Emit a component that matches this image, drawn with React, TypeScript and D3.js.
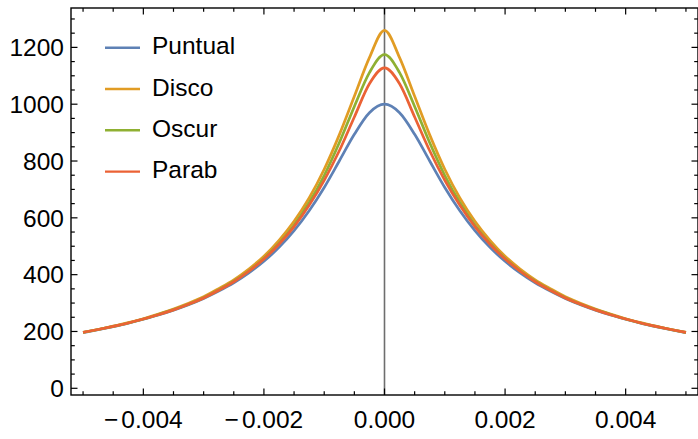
import React from "react";
import * as d3 from "d3";

const xValues = [
  -0.005, -0.00475, -0.0045, -0.00425, -0.004, -0.00375, -0.0035, -0.00325, -0.003, -0.00275,
  -0.0025, -0.00225, -0.002, -0.00175, -0.0015, -0.00125, -0.001, -0.00075, -0.0005, -0.00025,
  0,
  0.00025, 0.0005, 0.00075, 0.001, 0.00125, 0.0015, 0.00175, 0.002, 0.00225, 0.0025,
  0.00275, 0.003, 0.00325, 0.0035, 0.00375, 0.004, 0.00425, 0.0045, 0.00475, 0.005,
];

const puntual = [
  196, 206, 217, 229, 243, 258, 275, 294, 316, 342,
  371, 406, 447, 496, 555, 625, 707, 800, 894, 970,
  1000,
  970, 894, 800, 707, 625, 555, 496, 447, 406, 371,
  342, 316, 294, 275, 258, 243, 229, 217, 206, 196,
];

const disco = [
  197, 207, 219, 231, 245, 261, 279, 299, 322, 351,
  382, 420, 465, 521, 588, 670, 771, 892, 1028, 1164,
  1260,
  1164, 1028, 892, 771, 670, 588, 521, 465, 420, 382,
  351, 322, 299, 279, 261, 245, 231, 219, 207, 197,
];

const oscur = [
  197, 207, 218, 230, 244, 260, 277, 296, 319, 346,
  377, 413, 457, 510, 574, 653, 749, 864, 992, 1111,
  1175,
  1111, 992, 864, 749, 653, 574, 510, 457, 413, 377,
  346, 319, 296, 277, 260, 244, 230, 218, 207, 197,
];

const parab = [
  197, 207, 218, 230, 244, 259, 276, 296, 318, 345,
  375, 412, 455, 507, 569, 644, 732, 836, 955, 1072,
  1128,
  1072, 955, 836, 732, 644, 569, 507, 455, 412, 375,
  345, 318, 296, 276, 259, 244, 230, 218, 207, 197,
];

const seriesNames = ["Puntual", "Disco", "Oscur", "Parab"];
const seriesColors = ["#5E81B5", "#E19C24", "#8FB032", "#EB6235"];
const seriesData = [puntual, disco, oscur, parab];

const xMajorTicks = [-0.004, -0.002, 0, 0.002, 0.004];
const xTickLabels = ["\u22120.004", "\u22120.002", "0.000", "0.002", "0.004"];
const yMajorTicks = [0, 200, 400, 600, 800, 1000, 1200];
const yTickLabels = ["0", "200", "400", "600", "800", "1000", "1200"];

const W = 698;
const H = 439;
const left = 71;
const right = 698;
const top = 8;
const bottom = 395;
const FONT = "'Liberation Sans', Arial, sans-serif";
const FS = 24.5;

export default function App() {
  const x = d3.scaleLinear().domain([-0.0052, 0.0052]).range([left, right]);
  const y = d3.scaleLinear().domain([-23.6, 1338.6]).range([bottom, top]);

  const xMinor = d3.range(-10, 11).map((i) => i * 0.0005);
  const yMinor = d3.range(0, 27).map((i) => i * 50);

  const line = d3
    .line<number>()
    .x((_, i) => x(xValues[i]))
    .y((d) => y(d))
    .curve(d3.curveMonotoneX);

  const isMajorX = (v: number) => xMajorTicks.some((m) => Math.abs(m - v) < 1e-9);
  const isMajorY = (v: number) => yMajorTicks.includes(v);

  return (
    <svg width={W} height={H} style={{ position: "absolute", left: 0, top: 0 }}>
      <rect x={0} y={0} width={W} height={H} fill="#fff" />
      <defs>
        <clipPath id="plotclip">
          <rect x={left} y={top} width={right - left} height={bottom - top} />
        </clipPath>
      </defs>

      {/* vertical axis at x=0 */}
      <line x1={x(0)} x2={x(0)} y1={top} y2={bottom} stroke="#6e6e6e" strokeWidth={1.6} />

      {/* curves */}
      <g clipPath="url(#plotclip)">
        {seriesData.map((s, k) => (
          <path
            key={seriesNames[k]}
            d={line(s) || ""}
            fill="none"
            stroke={seriesColors[k]}
            strokeWidth={2.7}
            strokeLinejoin="round"
            strokeLinecap="butt"
          />
        ))}
      </g>

      {/* frame */}
      <rect x={left} y={top} width={right - left} height={bottom - top} fill="none" stroke="#000" strokeWidth={1.4} />

      {/* x ticks */}
      {xMinor.map((v) => {
        const len = isMajorX(v) ? 6.5 : 3.8;
        const px = x(v);
        return (
          <g key={"xt" + v}>
            <line x1={px} x2={px} y1={bottom} y2={bottom - len} stroke="#000" strokeWidth={1.2} />
            <line x1={px} x2={px} y1={top} y2={top + len} stroke="#000" strokeWidth={1.2} />
          </g>
        );
      })}
      {/* y ticks */}
      {yMinor.map((v) => {
        const len = isMajorY(v) ? 6.5 : 3.8;
        const py = y(v);
        if (py < top) return null;
        return (
          <g key={"yt" + v}>
            <line x1={left} x2={left + len} y1={py} y2={py} stroke="#000" strokeWidth={1.2} />
            <line x1={right} x2={right - len} y1={py} y2={py} stroke="#000" strokeWidth={1.2} />
          </g>
        );
      })}

      {/* x tick labels */}
      {xMajorTicks.map((v, i) => {
        const lab = xTickLabels[i];
        const neg = lab.startsWith("\u2212");
        return (
          <text
            key={"xl" + v}
            x={x(v)}
            y={428}
            textAnchor="middle"
            fontFamily={FONT}
            fontSize={FS}
            fill="#000"
          >
            {neg ? (
              <>
                <tspan>{"\u2212"}</tspan>
                <tspan dx={3}>{lab.slice(1)}</tspan>
              </>
            ) : (
              lab
            )}
          </text>
        );
      })}

      {/* y tick labels */}
      {yMajorTicks.map((v, i) => (
        <text
          key={"yl" + v}
          x={64}
          y={y(v) + 8.8}
          textAnchor="end"
          fontFamily={FONT}
          fontSize={FS}
          fill="#000"
        >
          {yTickLabels[i]}
        </text>
      ))}

      {/* legend */}
      {seriesNames.map((n, k) => {
        const ly = 47.7 + k * 41.3;
        return (
          <g key={"lg" + n}>
            <line x1={105} x2={140} y1={ly} y2={ly} stroke={seriesColors[k]} strokeWidth={2.4} />
            <text x={152} y={ly + 6.5} fontFamily={FONT} fontSize={FS} fill="#000">
              {n}
            </text>
          </g>
        );
      })}
    </svg>
  );
}
